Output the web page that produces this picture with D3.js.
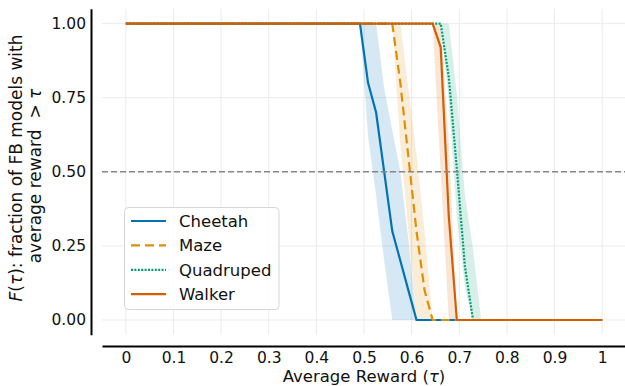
<!DOCTYPE html>
<html>
<head>
<meta charset="utf-8">
<script src="https://cdn.jsdelivr.net/npm/d3@7"></script>
<style>
  body { margin: 0; background: #fff; }
  svg { font-family: "DejaVu Sans", sans-serif; }
</style>
</head>
<body>
<svg id="chart" width="625" height="386"></svg>
<script>
// rows: [tau, mean, low, high]
const cheetah = [
  [0, 1, 1, 1],
  [0.4915, 1, 1, 1],
  [0.5085, 0.8, 0.62, 1],
  [0.5254, 0.7, 0.42, 1],
  [0.5424, 0.5, 0.2, 0.78],
  [0.5593, 0.3, 0, 0.64],
  [0.5763, 0.2, 0, 0.5],
  [0.5932, 0.1, 0, 0.27],
  [0.6102, 0, 0, 0],
  [1, 0, 0, 0]
];
const maze = [
  [0, 1, 1, 1],
  [0.5593, 1, 1, 1],
  [0.5763, 0.8, 0.59, 1],
  [0.5932, 0.55, 0.3, 0.78],
  [0.6102, 0.3, 0, 0.56],
  [0.6271, 0.1, 0, 0.3],
  [0.6441, 0, 0, 0],
  [1, 0, 0, 0]
];
const quadruped = [
  [0, 1, 1, 1],
  [0.6610, 1, 1, 1],
  [0.6780, 0.82, 0.74, 1],
  [0.6949, 0.51, 0.35, 0.76],
  [0.7119, 0.18, 0.11, 0.42],
  [0.7288, 0, 0, 0.24],
  [0.7458, 0, 0, 0],
  [1, 0, 0, 0]
];
const walker = [
  [0, 1, 1, 1],
  [0.6441, 1, 1, 1],
  [0.6610, 0.92, 0.5, 1],
  [0.6780, 0.35, 0, 0.6],
  [0.6949, 0, 0, 0],
  [1, 0, 0, 0]
];

const seriesNames = ["Cheetah", "Maze", "Quadruped", "Walker"];
const seriesData = [cheetah, maze, quadruped, walker];
const colors = ["#0173b2", "#de8f05", "#029e73", "#d55e00"];
const dashes = [null, "9,5", "2,1.4", null];

const xTicks = [0, 0.1, 0.2, 0.3, 0.4, 0.5, 0.6, 0.7, 0.8, 0.9, 1];
const xTickLabels = ["0", "0.1", "0.2", "0.3", "0.4", "0.5", "0.6", "0.7", "0.8", "0.9", "1"];
const yTicks = [0, 0.25, 0.5, 0.75, 1];

const svg = d3.select("#chart");

const x = d3.scaleLinear().domain([-0.05, 1.05]).range([102, 626]);
const y = d3.scaleLinear().domain([-0.05, 1.05]).range([334.8, 8.8]);

// grid
const grid = svg.append("g").attr("stroke", "#ebebeb").attr("stroke-width", 1);
grid.selectAll(".vg").data(xTicks).enter().append("line")
  .attr("x1", d => x(d)).attr("x2", d => x(d))
  .attr("y1", y.range()[0]).attr("y2", y.range()[1]);
grid.selectAll(".hg").data(yTicks).enter().append("line")
  .attr("x1", x.range()[0]).attr("x2", x.range()[1])
  .attr("y1", d => y(d)).attr("y2", d => y(d));

// bands
const area = d3.area()
  .x(d => x(d[0]))
  .y0(d => y(d[2]))
  .y1(d => y(d[3]));

seriesData.forEach((s, i) => {
  svg.append("path")
    .datum(s)
    .attr("d", area)
    .attr("fill", colors[i])
    .attr("fill-opacity", 0.16)
    .attr("stroke", "none");
});

// lines
const line = d3.line()
  .x(d => x(d[0]))
  .y(d => y(d[1]));

seriesData.forEach((s, i) => {
  svg.append("path")
    .datum(s)
    .attr("d", line)
    .attr("fill", "none")
    .attr("stroke", colors[i])
    .attr("stroke-width", 2.2)
    .attr("stroke-dasharray", dashes[i]);
});

// reference line at 0.5
svg.append("line")
  .attr("x1", x.range()[0]).attr("x2", x.range()[1])
  .attr("y1", y(0.5)).attr("y2", y(0.5))
  .attr("stroke", "#888")
  .attr("stroke-width", 1.5)
  .attr("stroke-dasharray", "6,3");

// axes
const xAxis = svg.append("g")
  .attr("transform", "translate(0,346)")
  .call(d3.axisBottom(x).tickValues(xTicks).tickSize(0).tickPadding(6)
    .tickFormat((d, i) => xTickLabels[i]));
const yAxis = svg.append("g")
  .attr("transform", "translate(91,0)")
  .call(d3.axisLeft(y).tickValues(yTicks).tickSize(0).tickPadding(5)
    .tickFormat(d3.format(".2f")));

[xAxis, yAxis].forEach(a => {
  a.select(".domain").attr("stroke", "#000").attr("stroke-width", 2);
  a.selectAll("text").attr("font-size", 15.5).attr("fill", "#111")
    .attr("font-family", "DejaVu Sans");
});

// axis labels
const xl = svg.append("text")
  .attr("x", 364).attr("y", 381.5)
  .attr("text-anchor", "middle")
  .attr("font-size", 16.5).attr("fill", "#111");
xl.append("tspan").text("Average Reward (");
xl.append("tspan").attr("font-style", "italic").text("τ");
xl.append("tspan").text(")");

const yl1 = svg.append("text")
  .attr("transform", "translate(22,168) rotate(-90)")
  .attr("text-anchor", "middle")
  .attr("font-size", 17).attr("fill", "#111");
yl1.append("tspan").attr("font-style", "italic").text("F");
yl1.append("tspan").text("(");
yl1.append("tspan").attr("font-style", "italic").text("τ");
yl1.append("tspan").text("): fraction of FB models with");

const yl2 = svg.append("text")
  .attr("transform", "translate(41,176) rotate(-90)")
  .attr("text-anchor", "middle")
  .attr("font-size", 17).attr("fill", "#111")
  .style("white-space", "pre");
yl2.append("tspan").text("average reward  > ");
yl2.append("tspan").attr("font-style", "italic").text("τ");

// legend
const legend = svg.append("g");
legend.append("rect")
  .attr("x", 124.5).attr("y", 207.5)
  .attr("width", 154.5).attr("height", 102)
  .attr("rx", 4)
  .attr("fill", "#fff").attr("fill-opacity", 0.85)
  .attr("stroke", "#d6d6d6").attr("stroke-width", 1);

const entries = legend.selectAll(".entry").data(seriesNames).enter().append("g")
  .attr("transform", (d, i) => `translate(0,${221 + i * 24.4})`);
entries.append("line")
  .attr("x1", 131).attr("x2", 166)
  .attr("stroke", (d, i) => colors[i])
  .attr("stroke-width", 2.2)
  .attr("stroke-dasharray", (d, i) => dashes[i]);
entries.append("text")
  .attr("x", 179).attr("y", 6)
  .attr("font-size", 16.5).attr("fill", "#111")
  .text(d => d);
</script>
</body>
</html>
